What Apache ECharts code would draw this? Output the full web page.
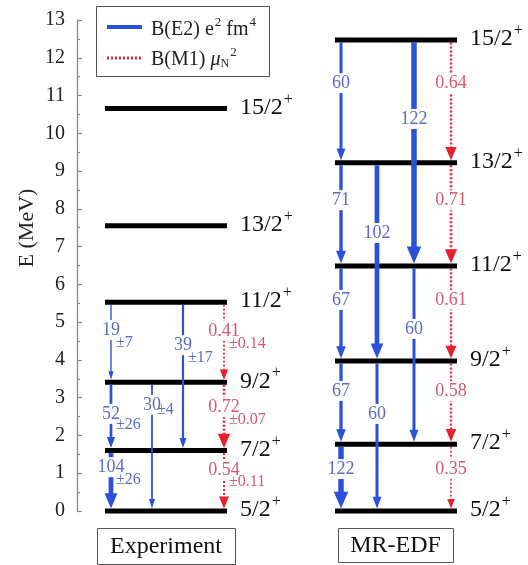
<!DOCTYPE html>
<html><head><meta charset="utf-8">
<script src="https://cdn.jsdelivr.net/npm/echarts@6/dist/echarts.min.js"></script>
<style>html,body{margin:0;padding:0;background:#fff}#c{width:528px;height:565px}</style>
</head><body><div id="c"></div>
<script>
// ---------------- data ----------------
const spins = ['5/2', '7/2', '9/2', '11/2', '13/2', '15/2'];
const expEnergies = [0, 1.60, 3.41, 5.53, 7.55, 10.66];
const mrEnergies = [0, 1.77, 3.97, 6.49, 9.22, 12.47];
// [from level, to level, value, error]
const expE2 = [[3, 2, 19, 7], [2, 1, 52, 26], [1, 0, 104, 26], [2, 0, 30, 4], [3, 1, 39, 17]];
const expM1 = [[3, 2, 0.41, 0.14], [2, 1, 0.72, 0.07], [1, 0, 0.54, 0.11]];
// [from level, to level, value]
const mrE2 = [[5, 4, 60], [4, 3, 71], [3, 2, 67], [2, 1, 67], [1, 0, 122], [5, 3, 122], [4, 2, 102], [3, 1, 60], [2, 0, 60]];
const mrM1 = [[5, 4, 0.64], [4, 3, 0.71], [3, 2, 0.61], [2, 1, 0.58], [1, 0, 0.35]];
const panelNames = ['Experiment', 'MR-EDF'];

// ---------------- layout ----------------
const expSpan = [105, 227], mrSpan = [335, 457];
const expE2Lane = [111, 111, 111, 152, 183], expM1Lane = 224;
const mrE2Lane = [341, 341, 341, 341, 341, 414, 377, 414, 377], mrM1Lane = 451;
const expE2LabelE = [4.79, 2.57, 1.16, 2.81, 4.39];
const expE2ErrE = [4.45, 2.28, 0.82, 2.67, 4.05];
const expM1LabelE = [4.77, 2.75, 1.09];
const expM1ErrE = [4.42, 2.41, 0.77];
const mrE2LabelE = [11.33, 8.23, 5.59, 3.18, 1.11, 10.38, 7.36, 4.82, 2.57];
const mrM1LabelE = [11.33, 8.23, 5.59, 3.18, 1.11];

const SERIF = 'Liberation Serif';
const BLUE = '#2b51da', BLUE_TXT = '#5a6cc6', RED = '#ea1f2f', RED_TXT = '#d65a6e';

// ---------------- series builders ----------------
function levelSeries(energies, span) {
  return {
    type: 'custom', clip: false, z: 2,
    data: energies.map(e => [span[0], span[1], e]),
    renderItem: (params, api) => {
      const a = api.coord([api.value(0), api.value(2)]);
      const b = api.coord([api.value(1), api.value(2)]);
      return {
        type: 'group', children: [
          { type: 'line', shape: { x1: a[0], y1: a[1], x2: b[0], y2: b[1] }, style: { stroke: '#000', lineWidth: 5 } },
          { type: 'text', x: b[0] + 13, y: b[1] - 1, style: {
              text: '{a|' + spins[params.dataIndex] + '}{b|+}',
              fontFamily: SERIF, fontSize: 24, fill: '#111', align: 'left', verticalAlign: 'middle',
              rich: { a: { fontFamily: SERIF, fontSize: 24, fill: '#111' },
                      b: { fontFamily: SERIF, fontSize: 16, fill: '#111', padding: [0, 0, 16, 1] } } } }
        ]
      };
    }
  };
}

function transSeries(list, energies, lanes, labelE, errE, isM1) {
  const data = list.map((t, i) => [Array.isArray(lanes) ? lanes[i] : lanes, energies[t[0]], energies[t[1]], labelE[i], errE ? errE[i] : 0, t[2]]);
  return {
    type: 'custom', clip: false, z: 3,
    data: data,
    renderItem: (params, api) => {
      const i = params.dataIndex;
      const x = api.value(0), v = api.value(5);
      const p1 = api.coord([x, api.value(1)]);
      const p2 = api.coord([x, api.value(2)]);
      const px = p1[0];
      let lw, hw, hl;
      if (isM1) { lw = 0.5 + v * 3; hw = 3 + v * 13; hl = 5 + v * 13; }
      else { lw = 0.6 + v * 0.04; hw = 3.5 + v * 0.09; hl = 7 + v * 0.08; }
      const y1 = p1[1] + 2.5, tip = p2[1] - 2.5;
      const col = isM1 ? RED : BLUE, tcol = isM1 ? RED_TXT : BLUE_TXT;
      const children = [
        { type: 'line', shape: { x1: px, y1: y1, x2: px, y2: tip - hl + 1 },
          style: { stroke: col, lineWidth: lw, lineDash: isM1 ? [2, 2] : null } },
        { type: 'polygon', shape: { points: [[px - hw / 2, tip - hl], [px + hw / 2, tip - hl], [px, tip]] },
          style: { fill: col } },
        { type: 'text', x: px, y: api.coord([x, api.value(3)])[1],
          style: { text: String(list[i][2]), fontFamily: SERIF, fontSize: 18, fill: tcol,
                   align: 'center', verticalAlign: 'middle', backgroundColor: '#fff', padding: [1, 1] } }
      ];
      if (errE) {
        children.push({ type: 'text', x: px + 5, y: api.coord([x, api.value(4)])[1],
          style: { text: '\u00b1' + list[i][3], fontFamily: SERIF, fontSize: 16, fill: tcol,
                   align: 'left', verticalAlign: 'middle' } });
      }
      return { type: 'group', children: children };
    }
  };
}

const chart = echarts.init(document.getElementById('c'), null, { renderer: 'canvas' });
chart.setOption({
  animation: false,
  backgroundColor: '#fff',
  grid: { left: 77, right: 0, top: 20, height: 491 },
  xAxis: { type: 'value', min: 77, max: 528, show: false },
  yAxis: {
    type: 'value', min: 0, max: 13, interval: 1,
    axisLine: { show: true, lineStyle: { color: '#888', width: 1.3 } },
    axisTick: { show: true, inside: true, length: 5, lineStyle: { color: '#888', width: 1.2 } },
    minorTick: { show: true, splitNumber: 2, length: 3, lineStyle: { color: '#888', width: 1.2 } },
    splitLine: { show: false },
    axisLabel: { fontFamily: SERIF, fontSize: 20, color: '#222', margin: 12 }
  },
  series: [
    levelSeries(expEnergies, expSpan),
    levelSeries(mrEnergies, mrSpan),
    transSeries(expE2, expEnergies, expE2Lane, expE2LabelE, expE2ErrE, false),
    transSeries(expM1, expEnergies, expM1Lane, expM1LabelE, expM1ErrE, true),
    transSeries(mrE2, mrEnergies, mrE2Lane, mrE2LabelE, null, false),
    transSeries(mrM1, mrEnergies, mrM1Lane, mrM1LabelE, null, true)
  ],
  graphic: [
    { type: 'text', x: 27, y: 228, rotation: Math.PI / 2,
      style: { text: 'E (MeV)', fontFamily: SERIF, fontSize: 22, fill: '#222', align: 'center', verticalAlign: 'middle' } },
    // legend
    { type: 'rect', shape: { x: 96.5, y: 6.5, width: 173, height: 70 }, style: { fill: '#fff', stroke: '#555', lineWidth: 1 }, z: 10 },
    { type: 'line', shape: { x1: 107, y1: 27, x2: 142, y2: 27 }, style: { stroke: BLUE, lineWidth: 4 }, z: 11 },
    { type: 'line', shape: { x1: 107, y1: 58, x2: 142, y2: 58 }, style: { stroke: RED, lineWidth: 3, lineDash: [2, 2] }, z: 11 },
    { type: 'text', x: 151, y: 30, z: 11, style: {
        text: 'B(E2) e{s|2} fm{s|4}', fontFamily: SERIF, fontSize: 20, fill: '#222', verticalAlign: 'middle',
        rich: { s: { fontFamily: SERIF, fontSize: 13, fill: '#222', padding: [0, 0, 14, 1] } } } },
    { type: 'text', x: 151, y: 60, z: 11, style: {
        text: 'B(M1) {m|\u03bc}{n|N}{s|2}', fontFamily: SERIF, fontSize: 20, fill: '#222', verticalAlign: 'middle',
        rich: { m: { fontFamily: SERIF, fontSize: 20, fontStyle: 'italic', fill: '#222' },
                n: { fontFamily: SERIF, fontSize: 12, fill: '#222', padding: [8, 0, 0, 0] },
                s: { fontFamily: SERIF, fontSize: 13, fill: '#222', padding: [0, 0, 14, 1] } } } },
    // panel name boxes
    { type: 'rect', shape: { x: 97.5, y: 528.5, width: 138, height: 36 }, style: { fill: 'none', stroke: '#555', lineWidth: 1 } },
    { type: 'text', x: 166, y: 547, style: { text: panelNames[0], fontFamily: SERIF, fontSize: 24, fill: '#111', align: 'center', verticalAlign: 'middle' } },
    { type: 'rect', shape: { x: 338.5, y: 528.5, width: 115, height: 34 }, style: { fill: 'none', stroke: '#555', lineWidth: 1 } },
    { type: 'text', x: 395.5, y: 546, style: { text: panelNames[1], fontFamily: SERIF, fontSize: 24, fill: '#111', align: 'center', verticalAlign: 'middle' } }
  ]
});
</script>
</body></html>
